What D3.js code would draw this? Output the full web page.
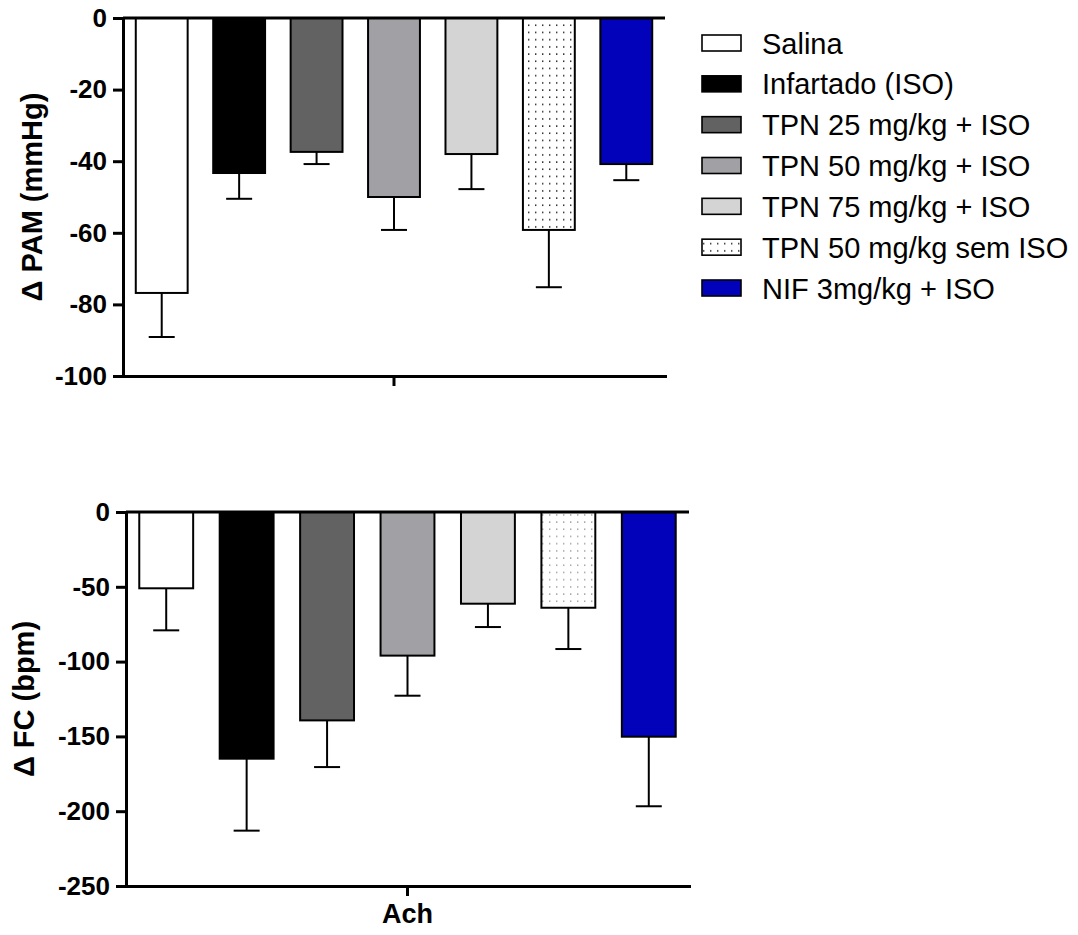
<!DOCTYPE html>
<html>
<head>
<meta charset="utf-8">
<script src="https://cdn.jsdelivr.net/npm/d3@7"></script>
<style>
  html, body { margin: 0; padding: 0; background: #fff; }
  svg { display: block; font-family: "Liberation Sans", Arial, sans-serif; }
</style>
</head>
<body>
<svg id="chart" width="1078" height="935"></svg>
<script>
// Groups (same order in both panels and the legend)
const groups = [
  "Salina",
  "Infartado (ISO)",
  "TPN 25 mg/kg + ISO",
  "TPN 50 mg/kg + ISO",
  "TPN 75 mg/kg + ISO",
  "TPN 50 mg/kg sem ISO",
  "NIF 3mg/kg + ISO"
];
const groupFills = ["#ffffff", "#000000", "#626262", "#a1a1a5", "#d4d4d4", "dots", "#0202bb"];

// Δ mean arterial pressure (mmHg): mean and SEM
const pamMean = [-76.8, -43.3, -37.4, -50.0, -38.0, -59.2, -40.8];
const pamSem  = [12.3, 7.2, 3.4, 9.2, 9.8, 16.0, 4.5];
const pamTicks = [0, -20, -40, -60, -80, -100];

// Δ heart rate (bpm): mean and SEM
const fcMean = [-51.0, -164.9, -139.3, -96.0, -61.3, -64.0, -150.2];
const fcSem  = [28.1, 48.1, 31.2, 26.8, 15.6, 27.6, 46.5];
const fcTicks = [0, -50, -100, -150, -200, -250];

const xCategory = ["Ach"];

const svg = d3.select("#chart");
const defs = svg.append("defs");

function dotPattern(id, color) {
  const p = defs.append("pattern")
    .attr("id", id).attr("patternUnits", "userSpaceOnUse")
    .attr("width", 7).attr("height", 7.2);
  p.append("rect").attr("width", 7).attr("height", 7.2).attr("fill", "#fff");
  p.append("rect").attr("x", 3).attr("y", 3).attr("width", 1.4).attr("height", 1.4).attr("fill", color);
}
dotPattern("dotsDark", "#111");
dotPattern("dotsLight", "#9a9a9a");

function fillFor(i, dotId) {
  return groupFills[i] === "dots" ? `url(#${dotId})` : groupFills[i];
}

function panel(opts) {
  const { x0, x1, yTop, yBottom, domain, ticks, mean, sem, title, titleX, dotId, showCat } = opts;
  const g = svg.append("g");

  const x = d3.scaleBand().domain(groups).range([x0, x1]).paddingInner(0.33).paddingOuter(0.165);
  const y = d3.scaleLinear().domain(domain).range([yBottom, yTop]);

  // bars
  g.selectAll("rect.bar").data(groups).join("rect")
    .attr("class", "bar")
    .attr("x", d => x(d))
    .attr("width", x.bandwidth())
    .attr("y", y(0))
    .attr("height", (d, i) => y(mean[i]) - y(0))
    .attr("fill", (d, i) => fillFor(i, dotId))
    .attr("stroke", "#000")
    .attr("stroke-width", 2);

  // error bars (one-sided, below each bar)
  const err = g.selectAll("g.err").data(groups).join("g").attr("class", "err");
  err.append("line")
    .attr("x1", d => x(d) + x.bandwidth() / 2)
    .attr("x2", d => x(d) + x.bandwidth() / 2)
    .attr("y1", (d, i) => y(mean[i]))
    .attr("y2", (d, i) => y(mean[i] - sem[i]))
    .attr("stroke", "#000").attr("stroke-width", 2);
  err.append("line")
    .attr("x1", d => x(d) + x.bandwidth() / 2 - 13)
    .attr("x2", d => x(d) + x.bandwidth() / 2 + 13)
    .attr("y1", (d, i) => y(mean[i] - sem[i]))
    .attr("y2", (d, i) => y(mean[i] - sem[i]))
    .attr("stroke", "#000").attr("stroke-width", 2);

  // zero line across the top
  g.append("line")
    .attr("x1", x0).attr("x2", x1)
    .attr("y1", y(0)).attr("y2", y(0))
    .attr("stroke", "#000").attr("stroke-width", 3);

  // y axis
  const yAxis = g.append("g")
    .attr("transform", `translate(${x0},0)`)
    .call(d3.axisLeft(y).tickValues(ticks).tickSize(10).tickSizeOuter(0).tickPadding(6));
  yAxis.select(".domain").attr("stroke-width", 3).attr("stroke-linecap", "square");
  yAxis.selectAll(".tick line").attr("stroke-width", 3);
  yAxis.selectAll(".tick text")
    .attr("font-size", 26).attr("font-weight", "bold").attr("fill", "#000")
    .attr("font-family", "Liberation Sans, Arial, sans-serif")
    .text(d => d === 0 ? "0" : "-" + Math.abs(d));

  // x axis with a single category
  const xc = d3.scaleBand().domain(xCategory).range([x0, x1]);
  const xAxis = g.append("g")
    .attr("transform", `translate(0,${yBottom})`)
    .call(d3.axisBottom(xc).tickSize(10).tickSizeOuter(0).tickPadding(8));
  xAxis.select(".domain").attr("stroke-width", 3).attr("stroke-linecap", "square");
  xAxis.selectAll(".tick line").attr("stroke-width", 3);
  xAxis.selectAll(".tick text")
    .attr("font-size", 27).attr("font-weight", "bold").attr("fill", "#000")
    .attr("font-family", "Liberation Sans, Arial, sans-serif")
    .style("display", showCat ? null : "none");

  // y axis title
  g.append("text")
    .attr("transform", `translate(${titleX},${(yTop + yBottom) / 2}) rotate(-90)`)
    .attr("text-anchor", "middle")
    .attr("font-size", 29).attr("font-weight", "bold")
    .text(title);
}

panel({
  x0: 123, x1: 665, yTop: 18, yBottom: 376,
  domain: [-100, 0], ticks: pamTicks, mean: pamMean, sem: pamSem,
  title: "Δ PAM (mmHg)", titleX: 42, dotId: "dotsDark", showCat: false
});

panel({
  x0: 126, x1: 689, yTop: 512, yBottom: 886,
  domain: [-250, 0], ticks: fcTicks, mean: fcMean, sem: fcSem,
  title: "Δ FC (bpm)", titleX: 34, dotId: "dotsLight", showCat: true
});

// legend
const legend = svg.append("g");
const rowY = d3.scaleLinear().domain([0, groups.length - 1]).range([43, 288]);
const rows = legend.selectAll("g").data(groups).join("g")
  .attr("transform", (d, i) => `translate(0,${rowY(i)})`);
rows.append("rect")
  .attr("x", 702).attr("y", -8).attr("width", 39).attr("height", 16)
  .attr("fill", (d, i) => fillFor(i, "dotsDark"))
  .attr("stroke", "#000").attr("stroke-width", 1.6);
rows.append("text")
  .attr("x", 762).attr("y", 10.5)
  .attr("font-size", 29)
  .attr("fill", "#000")
  .text(d => d);
</script>
</body>
</html>
